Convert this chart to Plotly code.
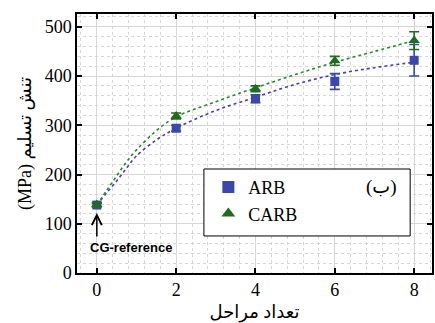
import plotly.graph_objects as go

# data
passes = [0, 2, 4, 6, 8]
arb = [138, 294, 354, 389, 432]
arb_err = [4, 6, 8, 16, 32]
carb = [139, 319, 374, 431, 472]
carb_err = [4, 6, 6, 9, 18]

fit_x = [0, 0.25, 0.5, 0.75, 1, 1.5, 2, 3, 4, 5, 6, 7, 8]
arb_fit = [138, 163, 187, 213, 238, 270, 294, 330, 357, 383, 403, 417, 428]
carb_fit = [138, 168, 197, 226, 250, 289, 317, 348, 376, 403, 428, 450, 472]

x_ticks = [0, 2, 4, 6, 8]
y_ticks = [0, 100, 200, 300, 400, 500]

BLUE = "#3848b0"
GREEN = "#1c6e1c"
SERIF = "Liberation Serif, DejaVu Serif, DejaVu Sans"

fig = go.Figure()
fig.add_trace(go.Scatter(x=fit_x, y=arb_fit, mode="lines", line=dict(color="#3f3fc8", width=1.6, dash="dot"),
                         showlegend=False, line_shape="spline", hoverinfo="skip"))
fig.add_trace(go.Scatter(x=fit_x, y=carb_fit, mode="lines", line=dict(color="#2a8a2a", width=1.6, dash="dot"),
                         showlegend=False, line_shape="spline", hoverinfo="skip"))
fig.add_trace(go.Scatter(x=passes, y=arb, mode="markers", name="ARB",
                         marker=dict(symbol="square", size=9, color=BLUE),
                         error_y=dict(type="data", array=arb_err, color=BLUE, thickness=1.6, width=5)))
fig.add_trace(go.Scatter(x=passes, y=carb, mode="markers", name="CARB",
                         marker=dict(symbol="triangle-up", size=10, color=GREEN),
                         error_y=dict(type="data", array=carb_err, color=GREEN, thickness=1.6, width=5)))

# legend box
fig.add_shape(type="rect", xref="paper", yref="paper", x0=0.3575, x1=0.9385, y0=0.143, y1=0.4015,
              line=dict(color="black", width=1), fillcolor="white", layer="above")

fig.add_annotation(x=0.908, y=0.28, xref="paper", yref="paper", xanchor="right", text="\u200e(ب)\u200e",
                   showarrow=False, font=dict(family=SERIF, size=19, color="black"))

# CG-reference annotation
fig.add_annotation(x=0.85, y=51, xref="x", yref="y", text="<b>CG-reference</b>", showarrow=False,
                   font=dict(family="Liberation Sans, Arial", size=13, color="black"))
fig.add_annotation(x=0, y=122, xref="x", yref="y", ax=0, ay=71, axref="x", ayref="y", text="",
                   showarrow=True, arrowhead=5, arrowsize=1.3, arrowwidth=1.5, arrowcolor="black")

axis_common = dict(showline=True, linecolor="black", linewidth=1.5, mirror="ticks",
                   ticks="inside", ticklen=5, tickwidth=1.5, tickcolor="black",
                   showgrid=True, gridcolor="#d6d6d6", gridwidth=1, zeroline=False,
                   tickfont=dict(family=SERIF, size=18, color="black"))

fig.update_xaxes(range=[-0.5, 8.45], tickvals=x_ticks, ticktext=[str(v) for v in x_ticks],
                 minor=dict(dtick=0.4, tick0=0, showgrid=True, griddash="dot", gridcolor="#d6d6d6", ticks=""),
                 title=dict(text="تعداد مراحل", font=dict(family=SERIF, size=18, color="black"), standoff=6),
                 **axis_common)
fig.update_yaxes(range=[0, 526], tickvals=y_ticks, ticktext=[str(v) for v in y_ticks],
                 minor=dict(dtick=20, tick0=0, showgrid=True, griddash="dot", gridcolor="#d6d6d6", ticks=""),
                 title=dict(text="(MPa) تنش تسلیم", font=dict(family=SERIF, size=18, color="black"), standoff=8),
                 **axis_common)

fig.update_layout(width=435, height=323, margin=dict(l=77, r=1, t=14, b=50),
                  plot_bgcolor="white", paper_bgcolor="white",
                  legend=dict(x=0.37, y=0.402, xanchor="left", yanchor="top", bgcolor="rgba(0,0,0,0)",
                              borderwidth=0, font=dict(family=SERIF, size=18, color="black"),
                              tracegroupgap=0, itemsizing="constant"))

fig.write_html("out.html")
